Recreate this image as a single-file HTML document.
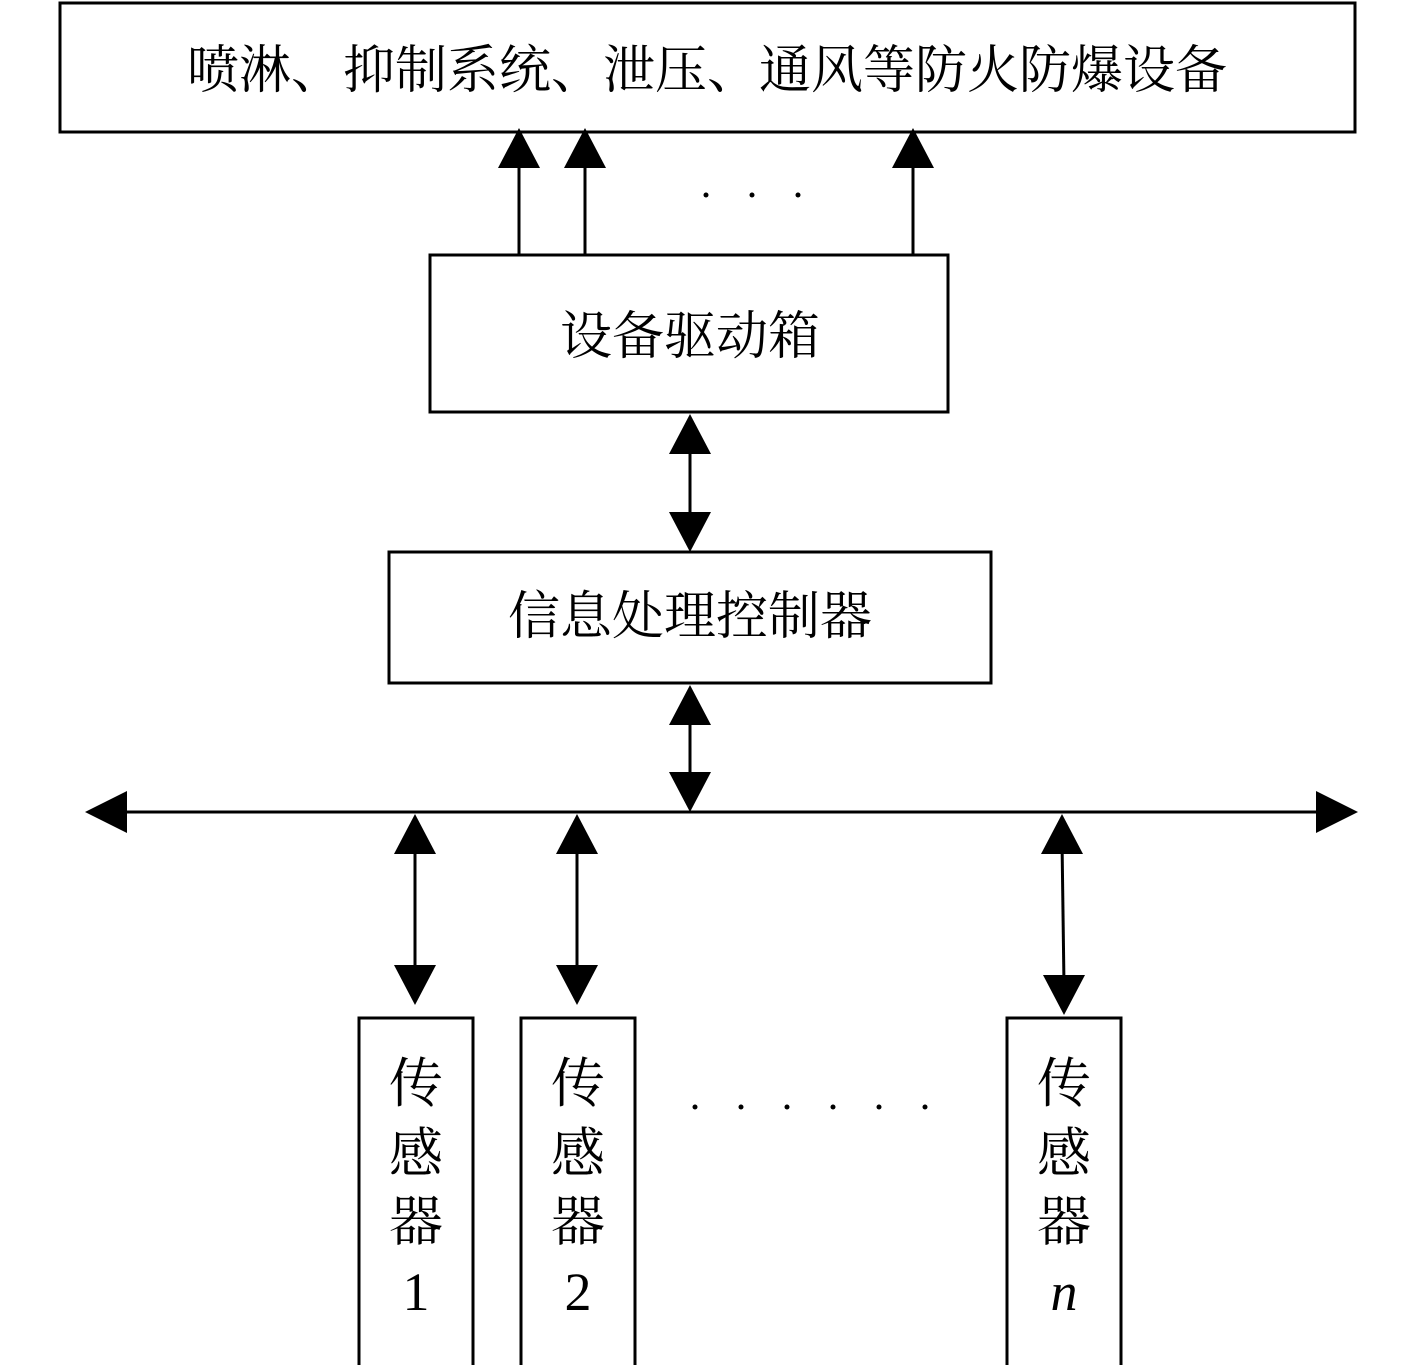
<!DOCTYPE html>
<html><head><meta charset="utf-8"><style>
html,body{margin:0;padding:0;background:#fff;}
svg{display:block;}
text{font-family:"Liberation Serif","Noto Serif CJK SC",serif;fill:#000;}
</style></head><body>
<svg width="1417" height="1365" viewBox="0 0 1417 1365" xmlns="http://www.w3.org/2000/svg">
<g fill="none" stroke="#000" stroke-width="3">
<rect x="60" y="3" width="1295" height="129"/>
<rect x="430" y="255" width="518" height="157"/>
<rect x="389" y="552" width="602" height="131"/>
<rect x="359" y="1018" width="114" height="350"/>
<rect x="521" y="1018" width="114" height="350"/>
<rect x="1007" y="1018" width="114" height="350"/>
<line x1="519" y1="255" x2="519" y2="160"/>
<line x1="585" y1="255" x2="585" y2="160"/>
<line x1="913" y1="255" x2="913" y2="160"/>
<line x1="690" y1="440" x2="690" y2="525"/>
<line x1="690" y1="710" x2="690" y2="785"/>
<line x1="110" y1="812" x2="1330" y2="812"/>
<line x1="415" y1="840" x2="415" y2="978"/>
<line x1="577" y1="840" x2="577" y2="978"/>
<line x1="1062" y1="840" x2="1064" y2="985"/>
</g>
<g fill="#000">
<polygon points="519,128 498,168 540,168"/>
<polygon points="585,128 564,168 606,168"/>
<polygon points="913,128 892,168 934,168"/>
<polygon points="690,414 669,454 711,454"/>
<polygon points="690,552 669,512 711,512"/>
<polygon points="690,685 669,725 711,725"/>
<polygon points="690,812 669,772 711,772"/>
<polygon points="85,812 127,791 127,833"/>
<polygon points="1358,812 1316,791 1316,833"/>
<polygon points="415,814 394,854 436,854"/>
<polygon points="415,1005 394,965 436,965"/>
<polygon points="577,814 556,854 598,854"/>
<polygon points="577,1005 556,965 598,965"/>
<polygon points="1062,814 1041,854 1083,854"/>
<polygon points="1064,1015 1043,975 1085,975"/>
<circle cx="706" cy="195" r="2.5"/><circle cx="752" cy="195" r="2.5"/><circle cx="798" cy="195" r="2.5"/>
<circle cx="695" cy="1107" r="2.5"/><circle cx="741" cy="1107" r="2.5"/><circle cx="787" cy="1107" r="2.5"/>
<circle cx="833" cy="1107" r="2.5"/><circle cx="879" cy="1107" r="2.5"/><circle cx="925" cy="1107" r="2.5"/>
</g>
<text x="707" y="88" font-size="52" text-anchor="middle">喷淋、抑制系统、泄压、通风等防火防爆设备</text>
<text x="690" y="354" font-size="52" text-anchor="middle">设备驱动箱</text>
<text x="690" y="634" font-size="52" text-anchor="middle">信息处理控制器</text>
<g font-size="54" text-anchor="middle">
<text x="416" y="1102">传</text><text x="416" y="1172">感</text><text x="416" y="1240">器</text><text x="416" y="1310">1</text>
<text x="578" y="1102">传</text><text x="578" y="1172">感</text><text x="578" y="1240">器</text><text x="578" y="1310">2</text>
<text x="1064" y="1102">传</text><text x="1064" y="1172">感</text><text x="1064" y="1240">器</text><text x="1064" y="1310" font-style="italic">n</text>
</g>
</svg>
</body></html>
